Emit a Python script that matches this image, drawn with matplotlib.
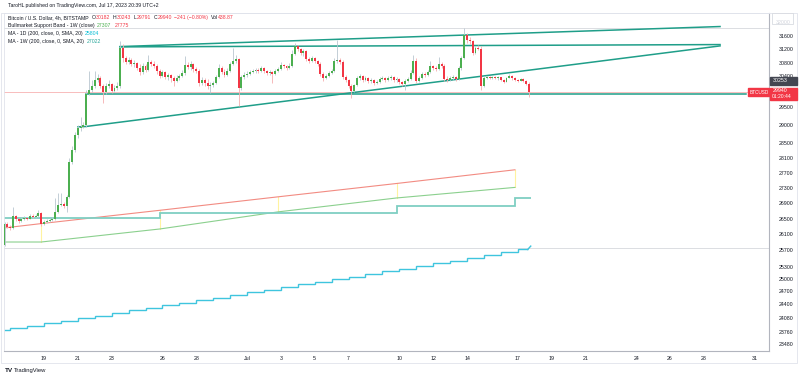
import matplotlib
matplotlib.use("Agg")
import matplotlib.pyplot as plt
import numpy as np

# ---- data ----
# 4h candles, BTCUSD Bitstamp, first candle June 16 18:00 (chart time)
first_open = 25830
closes = [26360, 26280, 26260, 26560, 26490, 26440, 26490, 26510, 26490, 26560,
          26540, 26560, 26640, 26360, 26410, 26440, 26460, 26490, 26670, 26850,
          26870, 26820, 27060, 27980, 28310, 28720, 28920, 28950, 29000, 29880,
          30000, 30110, 30290, 30350, 30110, 29940, 30110, 30170, 29970, 30050,
          30110, 31240, 30940, 30820, 30880, 30760, 30790, 30640, 30520, 30700,
          30580, 30820, 30760, 30700, 30550, 30400, 30520, 30380, 30430, 30350,
          30260, 30350, 30400, 30490, 30730, 30670, 30760, 30610, 30550, 30200,
          30290, 30200, 30110, 30140, 30200, 30380, 30640, 30520, 30430, 30550,
          30760, 30850, 30910, 30050, 30380, 30430, 30460, 30520, 30550, 30580,
          30550, 30640, 30550, 30490, 30520, 30460, 30550, 30610, 30730, 30700,
          30640, 30700, 31060, 31300, 31210, 31090, 31150, 30910, 30850, 30940,
          30850, 30760, 30460, 30350, 30400, 30490, 30550, 30850, 30880, 30820,
          30380, 30290, 30110, 29970, 30140, 30350, 30400, 30290, 30350, 30260,
          30290, 30200, 30230, 30320, 30350, 30290, 30350, 30380, 30290, 30320,
          30230, 30170, 30260, 30320, 30490, 30850, 30260, 30350, 30460, 30430,
          30520, 30700, 30640, 30610, 30760, 30700, 30320, 30290, 30350, 30380,
          30320, 30640, 30940, 31630, 31480, 31450, 31090, 31240, 31210, 30110,
          30350, 30380, 30350, 30380, 30350, 30380, 30290, 30230, 30350, 30400,
          30350, 30290, 30260, 30320, 30260, 30182, 29940]
highs = [26410, 26410, 26330, 26800, 26590, 26510, 26540, 26560, 26540, 26620,
         26620, 26620, 26720, 26670, 26460, 26490, 26510, 26540, 27030, 27160,
         27160, 26930, 27110, 28090, 28420, 28810, 29000, 29230, 29090, 30000,
         30550, 30290, 30550, 30460, 30400, 30170, 30200, 30290, 30200, 30140,
         30230, 31450, 31360, 31000, 30970, 30940, 30880, 30820, 30760, 30790,
         30760, 31030, 30880, 30850, 30760, 30610, 30580, 30550, 30490, 30460,
         30400, 30430, 30460, 30580, 31000, 30820, 30850, 30790, 30670, 30610,
         30380, 30350, 30320, 30230, 30260, 30430, 30760, 30700, 30610, 30640,
         30820, 31240, 31030, 30940, 30430, 30520, 30550, 30580, 30610, 30640,
         30640, 30700, 30670, 30580, 30580, 30550, 30610, 30670, 30820, 30760,
         30730, 30790, 31180, 31390, 31330, 31240, 31210, 31180, 30970, 31000,
         30970, 30880, 30820, 30520, 30460, 30550, 30610, 30940, 31480, 30940,
         30880, 30430, 30320, 30170, 30170, 30400, 30460, 30430, 30400, 30380,
         30350, 30320, 30290, 30380, 30400, 30380, 30400, 30430, 30400, 30380,
         30350, 30260, 30320, 30380, 30580, 31030, 30940, 30400, 30520, 30520,
         30580, 30850, 30730, 30700, 30970, 30820, 30760, 30400, 30400, 30430,
         30400, 30700, 31000, 31850, 31690, 31570, 31480, 31300, 31330, 31300,
         30400, 30400, 30400, 30400, 30400, 30400, 30380, 30320, 30380, 30460,
         30430, 30380, 30320, 30350, 30350, 30290, 30243]
lows = [25810, 26260, 26210, 26230, 26440, 26390, 26410, 26460, 26460, 26490,
        26510, 26510, 26540, 26310, 26330, 26390, 26410, 26440, 26460, 26640,
        26820, 26770, 26670, 27030, 27930, 28260, 28640, 28830, 28920, 28950,
        29850, 29940, 30050, 30230, 30050, 29630, 29880, 30050, 29910, 29940,
        30000, 30050, 30820, 30760, 30760, 30700, 30670, 30580, 30430, 30460,
        30520, 30550, 30700, 30640, 30460, 30350, 30380, 30320, 30290, 30230,
        30110, 30230, 30290, 30380, 30430, 30610, 30580, 30520, 30490, 30110,
        30140, 30110, 30020, 29910, 30080, 30170, 30350, 30460, 30380, 30400,
        30520, 30730, 30790, 29540, 30000, 30320, 30380, 30430, 30490, 30490,
        30490, 30520, 30490, 30430, 30430, 30200, 30430, 30520, 30580, 30640,
        30580, 30610, 30670, 31030, 31150, 31030, 31000, 30850, 30790, 30820,
        30790, 30700, 30400, 30260, 30320, 30380, 30460, 30520, 30790, 30760,
        30320, 30230, 30050, 29770, 29940, 30110, 30290, 30230, 30260, 30200,
        30200, 30140, 30170, 30200, 30290, 30230, 30260, 30290, 30230, 30230,
        30170, 30110, 30000, 30230, 30290, 30460, 30200, 30230, 30320, 30380,
        30400, 30490, 30580, 30550, 30580, 30640, 30260, 30230, 30260, 30290,
        30260, 30290, 30580, 30910, 31390, 31360, 31030, 31060, 31180, 30000,
        30080, 30320, 30320, 30320, 30320, 30290, 30260, 30200, 30230, 30350,
        30290, 30260, 30230, 30260, 30230, 30140, 29791]

# MA 200 on 1D (daily steps, June 16 .. July 17)
ma1d = [23800, 23850, 23900, 23960, 24010, 24070, 24130, 24190, 24250, 24310,
        24370, 24430, 24490, 24550, 24610, 24680, 24740, 24800, 24870, 24930,
        24990, 25050, 25120, 25180, 25250, 25310, 25380, 25440, 25510, 25580,
        25650, 25720]
ma1d_last = 25804
# MA 200 on 1W (weekly steps)
ma1w = [26510, 26640, 26640, 26820, 27022]
# Bullmarket support band, weekly nodes (start, Jun 19, Jun 26, Jul 3, Jul 10, Jul 17)
bsb_sma = [25906, 25906, 26233, 26670, 27030, 27307]
bsb_ema = [26260, 26370, 26710, 27060, 27410, 27775]

# trendline drawings (price anchors)
top_rise = [31280, 31890]
top_flat = [31270, 31340]
low_rise = [28950, 28959, 31300]
support = 29890
hlines = [31850, 25750]

price_ticks = [31600, 31200, 30800, 30400, 29500, 29000, 28500, 28100, 27700,
               27300, 26900, 26500, 26100, 25700, 25300, 25000, 24700, 24400, 24080,
               23760, 23480]
date_ticks = [19, 21, 23, 26, 28, 31, 33, 35, 37, 40, 42, 44, 47, 49, 51, 54, 56, 58, 61]
date_labels = ["19", "21", "23", "26", "28", "Jul", "3", "5", "7", "10", "12", "14",
               "17", "19", "21", "24", "26", "28", "31"]

UP = "#4caf50"
DOWN = "#f23645"
TEAL = "#1f9e89"
TXT = "#131722"
FONT = "Liberation Sans"
plt.rcParams["font.family"] = [FONT, "DejaVu Sans"]

W, H = 800, 378
fig = plt.figure(figsize=(8, 3.78), dpi=100)
fig.patch.set_facecolor("white")


def fx(x):
    return x / W


def fy(y):
    return 1 - y / H


ax = fig.add_axes([fx(4), fy(351), fx(765), (351 - 13) / H])
x0, x1 = 16.72, 61.93
ax.set_xlim(x0, x1)
ax.set_yscale("log")
ax.set_ylim(23321, 32309)

# x positions (days in June, July = 30 + day)
n = len(closes)
xs = 16.75 + np.arange(n) / 6
opens = np.array([first_open] + closes[:-1])
closes_a = np.array(closes)
up = closes_a >= opens

# indicators
week_x = [x0, 18.917, 25.917, 32.917, 39.917, 46.917]
ax.plot(week_x, bsb_ema, color="#f28b82", lw=0.8, zorder=2)
ax.plot(week_x, bsb_sma, color="#8bd08e", lw=0.8, zorder=2)
for wx, a, b in zip(week_x[1:], bsb_sma[1:], bsb_ema[1:]):
    ax.plot([wx, wx], [a, b], color="#fff3a0", lw=0.8, zorder=1)

wk_edges = [x0, 25.917, 32.917, 39.917, 46.917, xs[-1] + 0.1]
ax.stairs(ma1w, wk_edges, color="#7fcfc3", lw=1.3, baseline=None, zorder=2)

day_edges = [x0] + [d + 1 / 12 for d in range(17, 48)] + [xs[-1] - 0.08]
ax.stairs(ma1d, day_edges, color="#3fc5de", lw=1.0, baseline=None, zorder=2)
ax.plot([xs[-1] - 0.08, xs[-1] + 0.1], [ma1d[-1], ma1d_last], color="#3fc5de", lw=1.0)


def pxday(x):
    return x0 + (x - 4) / 16.92


# drawings
for yv in hlines:
    ax.axhline(yv, color="#d6d8dd", lw=0.6, zorder=1)
ax.axhline(closes[-1], color="#f7b2b2", lw=0.6, zorder=1)
ax.plot([pxday(120), pxday(720)], top_rise, color=TEAL, lw=1.1, zorder=3)
ax.plot([pxday(120), pxday(720)], top_flat, color=TEAL, lw=1.1, zorder=3)
ax.plot([pxday(78), pxday(86), pxday(720)], low_rise, color=TEAL, lw=1.1, zorder=3)
ax.plot([pxday(86), pxday(746)], [support, support], color=TEAL, lw=1.1, zorder=3)

# candles
wick_col = np.where(up, "#b9c6d0", "#f5aeb0")
ax.vlines(xs, lows, highs, colors=wick_col, lw=0.6, zorder=4)
body_lo = np.minimum(opens, closes_a)
body_hi = np.maximum(opens, closes_a)
body_hi = np.maximum(body_hi, body_lo * 1.0004)
ax.bar(xs, body_hi - body_lo, bottom=body_lo, width=0.115,
       color=np.where(up, UP, DOWN), linewidth=0, zorder=5)

# axes styling
for s in ["top", "left"]:
    ax.spines[s].set_color("#e0e3eb")
    ax.spines[s].set_linewidth(0.6)
ax.spines["right"].set_color("#b2b5be")
ax.spines["bottom"].set_color("#b2b5be")
ax.spines["right"].set_linewidth(0.8)
ax.spines["bottom"].set_linewidth(0.8)
ax.yaxis.tick_right()
ax.set_yticks(price_ticks)
ax.set_yticklabels([str(p) for p in price_ticks])
ax.yaxis.set_minor_locator(matplotlib.ticker.NullLocator())
ax.set_xticks([d + 1 / 12 for d in date_ticks])
ax.set_xticklabels(date_labels)
ax.tick_params(axis="both", length=0, labelsize=3.8, colors=TXT)
ax.tick_params(axis="y", pad=7)
ax.tick_params(axis="x", pad=3.5)

# outer frame
fig.add_artist(plt.Rectangle((fx(1), fy(363)), fx(796), (363 - 13) / H, fill=False,
                             edgecolor="#e0e3eb", lw=0.6, transform=fig.transFigure))
# scale button box at the top of the price axis, with the faded top label
fig.add_artist(plt.Rectangle((fx(772), fy(24)), fx(21), 11 / H, facecolor="white",
                             edgecolor="#d1d4dc", lw=0.5, transform=fig.transFigure, zorder=9))
fig.text(fx(776), fy(22), "32000", color="#d1d4dc", fontsize=3.8, va="center", zorder=10)

# right-side value labels
fig.add_artist(plt.Rectangle((fx(770), fy(85)), fx(27), 8 / H, color="#434651",
                             transform=fig.transFigure, zorder=10))
fig.text(fx(773), fy(81), "30253", color="white", fontsize=3.8, va="center", zorder=11)
fig.add_artist(plt.Rectangle((fx(770), fy(99.5)), fx(27), 11.5 / H, color=DOWN,
                             transform=fig.transFigure, zorder=10))
fig.text(fx(773), fy(91), "29940", color="white", fontsize=3.8, va="center", zorder=11)
fig.text(fx(772), fy(97), "01:20:44", color="white", fontsize=3.6, va="center", zorder=11)
fig.add_artist(plt.Rectangle((fx(748), fy(96)), fx(21), 8 / H, color=DOWN,
                             transform=fig.transFigure, zorder=10))
fig.text(fx(750), fy(92), "BTCUSD", color="white", fontsize=3.4, va="center", zorder=11)

# header and legend, written piece by piece
fs = 3.7
renderer = fig.canvas.get_renderer()


def text_line(x, y, parts):
    for t, c, gap in parts:
        tt = fig.text(fx(x), fy(y), t, fontsize=fs, color=c, va="center")
        x += tt.get_window_extent(renderer).width + gap


text_line(8, 6, [("TaroHL published on TradingView.com, Jul 17, 2023 20:39 UTC+2", TXT, 0)])
text_line(8, 17.5, [("Bitcoin / U.S. Dollar, 4h, BITSTAMP", TXT, 3),
                    ("O", TXT, 0.3), ("30182", DOWN, 2.5), ("H", TXT, 0.3), ("30243", DOWN, 2.5),
                    ("L", TXT, 0.3), ("29791", DOWN, 2.5), ("C", TXT, 0.3), ("29940", DOWN, 2.5),
                    ("\u2212241 (\u22120.80%)", DOWN, 2.5), ("Vol", TXT, 0.3), ("438.87", DOWN, 0)])
text_line(8, 25.5, [("Bullmarket Support Band - 1W (close)", TXT, 2.5),
                    ("27307", UP, 3), ("27775", DOWN, 0)])
text_line(8, 33.5, [("MA - 1D (200, close, 0, SMA, 20)", TXT, 2.5), ("25804", "#00bcd4", 0)])
text_line(8, 41.5, [("MA - 1W (200, close, 0, SMA, 20)", TXT, 2.5), ("27022", "#26a69a", 0)])

# footer logo
fig.text(fx(5), fy(370.5), "TV", fontsize=4.6, color=TXT, va="center", weight="bold")
fig.text(fx(14), fy(370.5), "TradingView", fontsize=4.2, color=TXT, va="center")

fig.savefig("out.png", dpi=100)
